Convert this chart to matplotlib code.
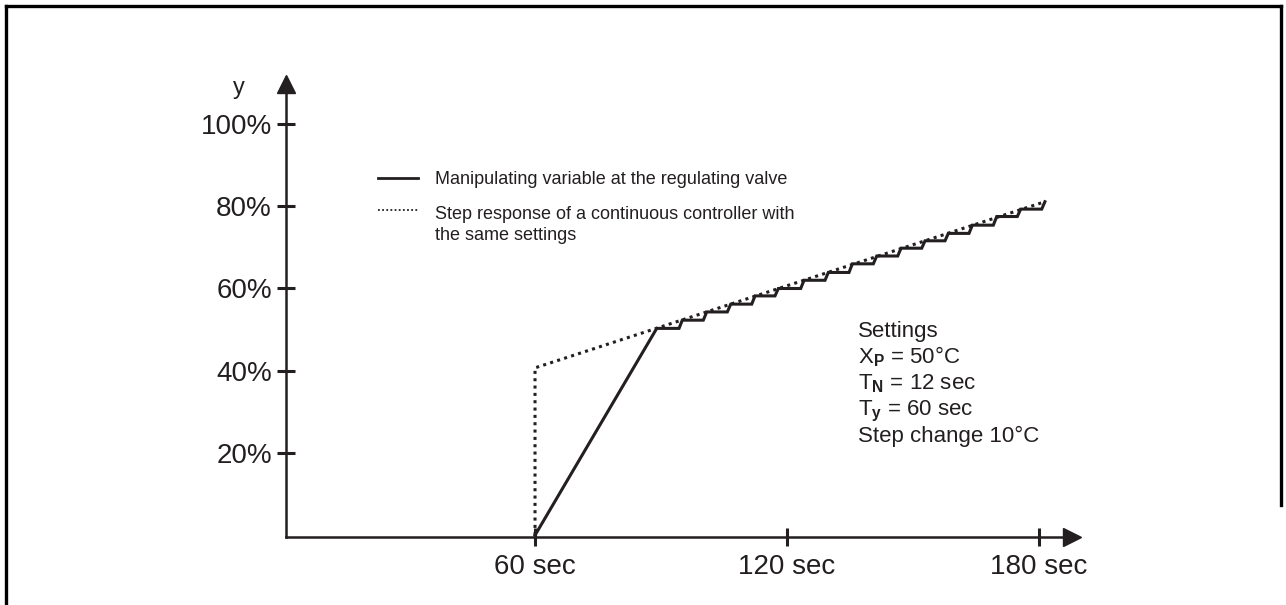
import numpy as np
import matplotlib
matplotlib.use("Agg")
import matplotlib.pyplot as plt
from matplotlib.lines import Line2D

plt.rcParams['font.family'] = ['Liberation Sans', 'DejaVu Sans']
plt.rcParams['mathtext.fontset'] = 'custom'
plt.rcParams['mathtext.rm'] = 'Liberation Sans'
plt.rcParams['mathtext.it'] = 'Liberation Sans:italic'
plt.rcParams['mathtext.bf'] = 'Liberation Sans:bold'
plt.rcParams['mathtext.sf'] = 'Liberation Sans'

# Given
# time in sec, output in %
ramp_t = [60.0, 88.98]
ramp_y = [0.0, 50.3]
step_start = [88.98, 95.07, 100.88, 106.6, 112.38, 117.93, 124.05, 129.83,
              135.55, 141.36, 147.14, 152.86, 158.4, 164.12, 169.93, 175.64]
step_end = [94.29, 100.07, 105.79, 111.6, 117.14, 123.26, 129.05, 134.76,
            140.55, 146.36, 152.07, 157.62, 163.33, 169.12, 174.83, 180.64]
step_level = [50.3, 52.3, 54.3, 56.2, 58.2, 60.0, 62.0, 63.9,
              66.0, 67.9, 69.8, 71.6, 73.4, 75.4, 77.5, 79.3]
end_t, end_y = 181.4, 81.1

cont_t = [60.0, 60.0, 181.4]
cont_y = [0.0, 40.7, 81.1]

sec_ticks = [60, 120, 180]
sec_labels = ['60 sec', '120 sec', '180 sec']
pct_ticks = [20, 40, 60, 80, 100]
pct_labels = ['20%', '40%', '60%', '80%', '100%']

settings_lines = ['Settings',
                  r'X$_\mathbf{P}$ = 50°C',
                  r'T$_\mathbf{N}$ = 12 sec',
                  r'T$_\mathbf{y}$ = 60 sec',
                  'Step change 10°C']

# Build the stepped manipulating variable curve
solid_t = list(ramp_t)
solid_y = list(ramp_y)
for s, e, lv in zip(step_start, step_end, step_level):
    if solid_t[-1] != s:
        solid_t.append(s)
        solid_y.append(lv)
    solid_t.append(e)
    solid_y.append(lv)
solid_t.append(end_t)
solid_y.append(end_y)

ink = '#231f20'

# Plotting
fig = plt.figure(figsize=(12.86, 6.05), dpi=100)
ax = fig.add_axes([0, 0, 1, 1])
ax.set_xlim(-67.38, 238.8)
ax.set_ylim(-16.96, 130.15)
ax.patch.set_alpha(0)

# axes through the origin with arrows
x0, y0 = 0.83, -0.43
x_end, y_end = 187.9, 109.7
ax.spines['top'].set_visible(False)
ax.spines['right'].set_visible(False)
ax.spines['left'].set_position(('data', x0))
ax.spines['bottom'].set_position(('data', y0))
ax.spines['left'].set_bounds(y0, y_end)
ax.spines['bottom'].set_bounds(x0, x_end)
for sp in ('left', 'bottom'):
    ax.spines[sp].set_linewidth(1.8)
    ax.spines[sp].set_color(ink)
ax.plot(x_end, y0, '>', color=ink, ms=13, clip_on=False)
ax.plot(x0, y_end, '^', color=ink, ms=13, clip_on=False)

ax.set_xticks(sec_ticks, labels=sec_labels)
ax.set_yticks(pct_ticks, labels=pct_labels)
ax.tick_params(direction='inout', length=13, width=2.2, color=ink,
               labelsize=20, labelcolor=ink)
ax.tick_params(axis='x', pad=6)
ax.tick_params(axis='y', pad=4)

ax.text(-10.5, 108.8, 'y', fontsize=17, color=ink, ha='center', va='center')

# curves
ax.plot(cont_t, cont_y, color=ink, lw=2.2, linestyle=(0, (1, 1.4)))
ax.plot(solid_t, solid_y, color=ink, lw=2.2, solid_joinstyle='miter')

# legend
ax.plot([22.6, 32.1], [86.9, 86.9], color=ink, lw=2.0)
ax.plot([22.6, 32.1], [79.1, 79.1], color=ink, lw=1.3, linestyle=(0, (1, 1.3)))
ax.text(36.2, 86.5, 'Manipulating variable at the regulating valve',
        fontsize=13, color=ink, va='center')
ax.text(36.2, 75.4, 'Step response of a continuous controller with\nthe same settings',
        fontsize=13, color=ink, va='center', linespacing=1.3)

# settings box
for i, line in enumerate(settings_lines):
    ax.text(136.9, 48.2 - 6.37 * i, line, fontsize=16, color=ink, va='baseline')

# frame around the figure
W, H = 1286, 605
frame = [([5.5 / W, 5.5 / W], [0, 1 - 5.5 / H]),
         ([5.5 / W, 1280.5 / W], [1 - 5.5 / H, 1 - 5.5 / H]),
         ([1280.5 / W, 1280.5 / W], [1 - 5.5 / H, 1 - 505 / H])]
for fx, fy in frame:
    fig.add_artist(Line2D(fx, fy, color='black', lw=2.4,
                          solid_capstyle='projecting'))

fig.savefig('out.png', dpi=100)
